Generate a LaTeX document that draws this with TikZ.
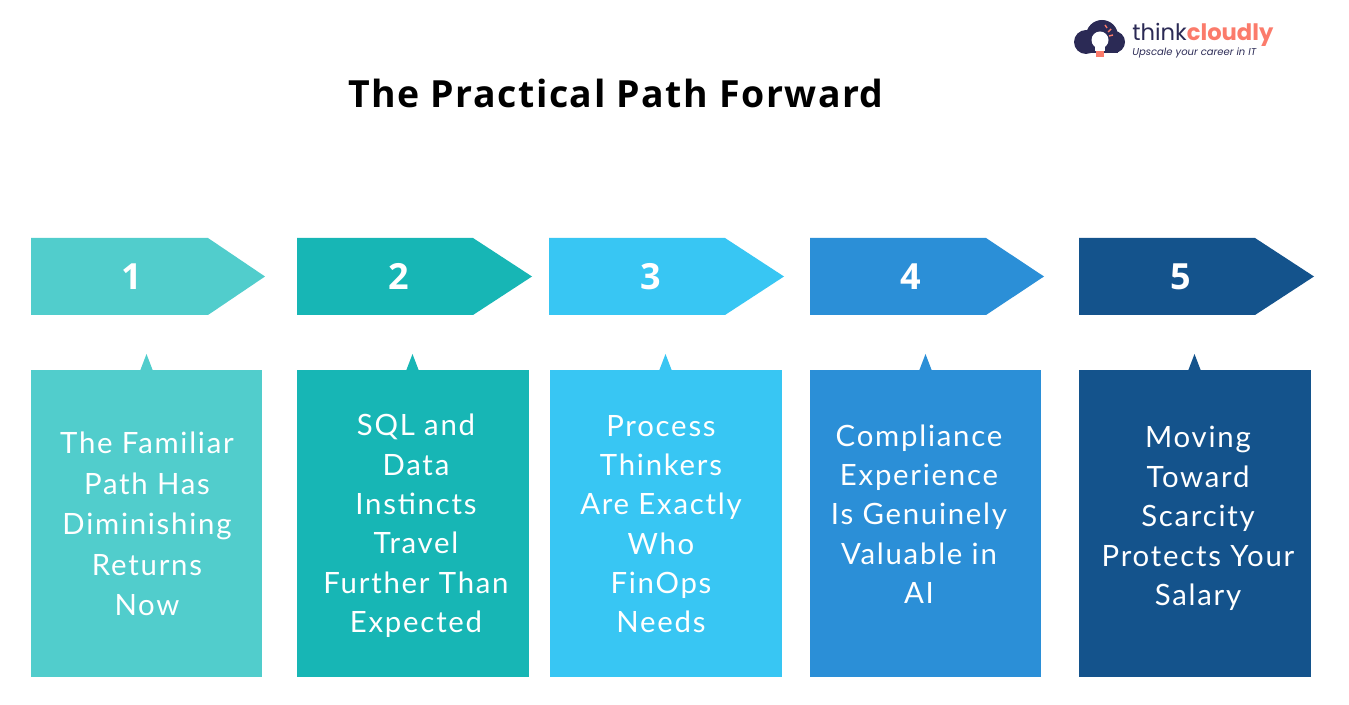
\documentclass[tikz,border=0pt]{standalone}
\usepackage{fontspec}
\setmainfont{Open Sans}
\newfontfamily\bodyfont[LetterSpace=6,Numbers=Lining]{Lato}
\newfontfamily\titlefont[LetterSpace=4]{Open Sans}
\newfontfamily\logofont{Poppins}
\usetikzlibrary{positioning}
\definecolor{color1}{HTML}{51CDCC}
\definecolor{color2}{HTML}{17B6B5}
\definecolor{color3}{HTML}{38C6F3}
\definecolor{color4}{HTML}{2B8FD7}
\definecolor{color5}{HTML}{14538C}
\definecolor{lognavy}{HTML}{2B2A55}
\definecolor{logsalmon}{HTML}{FB7B6B}
\tikzset{number/.style={text=white,font=\fontsize{20.5}{24}\selectfont\bfseries,inner sep=0pt}}
\tikzset{body/.style={text=white,font=\fontsize{16.7}{22.4}\selectfont\bodyfont,align=center,inner sep=0pt}}
\begin{document}
\begin{tikzpicture}[x=0.02cm,y=-0.02cm]
\useasboundingbox (0,0) rectangle (1349,705);

% Define title and logo
\node[font=\fontsize{21.3}{26}\selectfont\titlefont\bfseries,inner sep=0pt] (title) at (616,93) {The Practical Path Forward};
\fill[lognavy] (1086,42) circle (12) (1102,36) circle (16) (1114,42) circle (11);
\fill[lognavy] (1082,42) rectangle (1118,53);
\fill[white] (1100,40) circle (8.5);
\fill[white] (1095,44) rectangle (1105,51);
\fill[logsalmon] (1096,51) rectangle (1104,57);
\draw[logsalmon,thick] (1105,25) -- (1107,28) (1111,29) -- (1108,32) (1113,35) -- (1109,36);
\node[font=\fontsize{12.9}{16}\selectfont\logofont,anchor=west,inner sep=0pt] (brand) at (1132,35) {\textcolor{lognavy}{think}\textcolor{logsalmon}{\bfseries cloudly}};
\node[font=\fontsize{5.7}{7}\selectfont\logofont\itshape,text=lognavy,anchor=west,inner sep=0pt] (tagline) at (1132,53) {Upscale your career in IT};

% Define arrows
\fill[color1] (31,238) -- (208,238) -- (265,276.5) -- (208,315) -- (31,315) -- cycle;
\fill[color2] (297,238) -- (473,238) -- (532,276.5) -- (473,315) -- (297,315) -- cycle;
\fill[color3] (549,238) -- (725,238) -- (784,276.5) -- (725,315) -- (549,315) -- cycle;
\fill[color4] (810,238) -- (986,238) -- (1044,276.5) -- (986,315) -- (810,315) -- cycle;
\fill[color5] (1079,238) -- (1255,238) -- (1314,276.5) -- (1255,315) -- (1079,315) -- cycle;

% Define boxes
\fill[color1] (31,370.5) rectangle (262,677);
\fill[color2] (297,370.5) rectangle (529,677);
\fill[color3] (550,370.5) rectangle (782,677);
\fill[color4] (810,370.5) rectangle (1041,677);
\fill[color5] (1079,370.5) rectangle (1311,677);

% Define pointers
\fill[color1] (140,371) -- (146.5,354) -- (153,371) -- cycle;
\fill[color2] (406,371) -- (412.5,354) -- (419,371) -- cycle;
\fill[color3] (659,371) -- (665.5,354) -- (672,371) -- cycle;
\fill[color4] (919,371) -- (925.5,354) -- (932,371) -- cycle;
\fill[color5] (1188,371) -- (1194.5,354) -- (1201,371) -- cycle;

% Add numbers
\node[number] (n1) at (131.5,276.5) {1};
\node[number] (n2) at (398.5,276.5) {2};
\node[number] (n3) at (650.5,276.5) {3};
\node[number] (n4) at (910.5,276.5) {4};
\node[number] (n5) at (1180.5,276.5) {5};

% Add some text
\node[body,font=\fontsize{16.7}{23}\selectfont\bodyfont] (t1) at (147,524) {The Familiar\\Path Has\\Diminishing\\Returns\\Now};
\node[body] (t2) at (416,526) {SQL and\\Data\\Instincts\\Travel\\Further Than\\Expected};
\node[body] (t3) at (661,524) {Process\\Thinkers\\Are Exactly\\Who\\FinOps\\Needs};
\node[body] (t4) at (919,514) {Compliance\\Experience\\Is Genuinely\\Valuable in\\AI};
\node[body] (t5) at (1198,518.5) {Moving\\Toward\\Scarcity\\Protects Your\\Salary};
\end{tikzpicture}
\end{document}
